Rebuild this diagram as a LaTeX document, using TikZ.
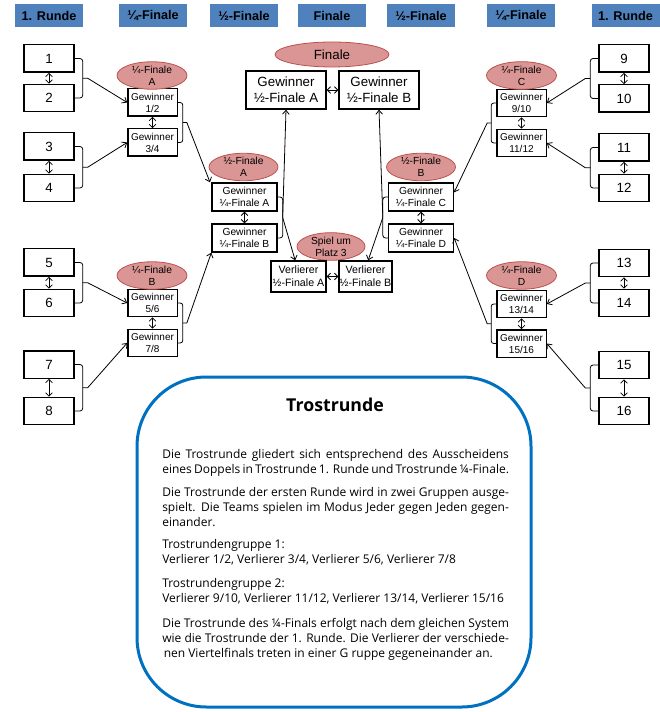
\documentclass[tikz,border=0pt]{standalone}
\usepackage{fontspec}
\setmainfont{Liberation Sans}
\newfontfamily\bodyfont{Open Sans}
\usetikzlibrary{arrows.meta,shapes.geometric,calc}
\definecolor{hdr}{RGB}{79,129,189}
\definecolor{ellf}{RGB}{217,150,148}
\definecolor{elld}{RGB}{192,80,77}
\definecolor{tblue}{RGB}{0,112,192}
\newcommand{\jl}[1]{\makebox[260pt][s]{#1}}
\begin{document}
\begin{tikzpicture}[x=0.75pt,y=-0.75pt,
 hdrbox/.style={fill=hdr, minimum width=51pt, minimum height=17.25pt, inner sep=0pt, font=\bfseries\fontsize{9.5}{11}\selectfont},
 r1box/.style={draw, line width=1pt, minimum width=37.5pt, minimum height=20.5pt, inner sep=0pt, font=\fontsize{10}{12}\selectfont},
 qfbox/.style={draw, line width=1pt, minimum width=37pt, minimum height=20.5pt, inner sep=0pt, align=center, font=\fontsize{7.5}{9}\selectfont},
 sfbox/.style={draw, line width=1pt, minimum width=48.75pt, minimum height=21pt, inner sep=0pt, align=center, font=\fontsize{7.7}{9}\selectfont},
 finbox/.style={draw, line width=1pt, minimum width=60pt, minimum height=28.5pt, inner sep=0pt, align=center, font=\fontsize{10}{12}\selectfont},
 verbox/.style={draw, line width=1pt, minimum height=23.25pt, inner sep=0pt, align=center, font=\fontsize{8}{9.75}\selectfont},
 lbl/.style={ellipse, fill=ellf, draw=elld, line width=0.6pt, inner sep=0pt, align=center, font=\fontsize{7.7}{9}\selectfont},
 con/.style={line width=0.6pt, -{Straight Barb[length=3pt,width=5pt]}},
 dbl/.style={line width=0.6pt, {Straight Barb[length=2.5pt,width=5pt]}-{Straight Barb[length=2.5pt,width=5pt]}},
 brk/.style={line width=0.6pt, rounded corners=2pt},
 body/.style={anchor=base west, inner sep=0pt, font=\bodyfont\fontsize{9}{11}\selectfont},
]
\useasboundingbox (0,0) rectangle (659,712);

% headers
\node[hdrbox] (h1) at (49,15.5) {1. Runde};
\node[hdrbox] (h2) at (153,15.5) {¼-Finale};
\node[hdrbox] (h3) at (244,15.5) {½-Finale};
\node[hdrbox] (h4) at (332,15.5) {Finale};
\node[hdrbox] (h5) at (421,15.5) {½-Finale};
\node[hdrbox] (h6) at (521,15.5) {¼-Finale};
\node[hdrbox] (h7) at (625.5,15.5) {1. Runde};

% first round left
\node[r1box] (n1) at (49,58.5) {1};
\node[r1box] (n2) at (49,98) {2};
\node[r1box] (n3) at (49,146.5) {3};
\node[r1box] (n4) at (49,188) {4};
\node[r1box] (n5) at (49,262.5) {5};
\node[r1box] (n6) at (49,303) {6};
\node[r1box] (n7) at (49,364.5) {7};
\node[r1box] (n8) at (49,411) {8};
% first round right
\node[r1box] (n9) at (624,58.5) {9};
\node[r1box] (n10) at (624,98.5) {10};
\node[r1box] (n11) at (624,147.5) {11};
\node[r1box] (n12) at (624,188) {12};
\node[r1box] (n13) at (624,263) {13};
\node[r1box] (n14) at (624,303) {14};
\node[r1box] (n15) at (624,365) {15};
\node[r1box] (n16) at (624,411) {16};

% quarter finals
\node[qfbox] (q12) at (152.5,102.5) {Gewinner\\1/2};
\node[qfbox] (q34) at (152.5,142.5) {Gewinner\\3/4};
\node[qfbox] (q56) at (152.5,303) {Gewinner\\5/6};
\node[qfbox] (q78) at (152.5,343) {Gewinner\\7/8};
\node[qfbox] (q910) at (521.5,103) {Gewinner\\9/10};
\node[qfbox] (q1112) at (521.5,143) {Gewinner\\11/12};
\node[qfbox] (q1314) at (521.5,304) {Gewinner\\13/14};
\node[qfbox] (q1516) at (521.5,343.5) {Gewinner\\15/16};

\node[lbl, minimum width=52.5pt, minimum height=18pt] (ea) at (152,75.5) {¼-Finale\\A};
\node[lbl, minimum width=52.5pt, minimum height=18.75pt] (eb) at (152,275.5) {¼-Finale\\B};
\node[lbl, minimum width=52.5pt, minimum height=18pt] (ec) at (521.5,75.5) {¼-Finale\\C};
\node[lbl, minimum width=52.5pt, minimum height=18.75pt] (ed) at (521.5,275.5) {¼-Finale\\D};

% semi finals
\node[sfbox] (sfa) at (244.5,197) {Gewinner\\¼-Finale A};
\node[sfbox] (sfb) at (244.5,238) {Gewinner\\¼-Finale B};
\node[sfbox] (sfc) at (421,197) {Gewinner\\¼-Finale C};
\node[sfbox] (sfd) at (421,238) {Gewinner\\¼-Finale D};
\node[lbl, minimum width=51.75pt, minimum height=19.5pt] (esa) at (243.5,167) {½-Finale\\A};
\node[lbl, minimum width=51.75pt, minimum height=19.5pt] (esb) at (421,167) {½-Finale\\B};

% finals
\node[lbl, minimum width=85.5pt, minimum height=18.75pt, font=\fontsize{10}{12}\selectfont] (efin) at (332,54.5) {Finale};
\node[finbox] (fina) at (286,90) {Gewinner\\½-Finale A};
\node[finbox] (finb) at (379,90) {Gewinner\\½-Finale B};
\node[lbl, minimum width=51pt, minimum height=20.25pt] (ep3) at (331,246.5) {Spiel um\\Platz 3};
\node[verbox, minimum width=41.25pt] (verla) at (298.5,276.5) {Verlierer\\½-Finale A};
\node[verbox, minimum width=39.75pt] (verlb) at (365.5,276.5) {Verlierer\\½-Finale B};

% double arrows
\foreach \a/\b in {n1/n2,n3/n4,n5/n6,n7/n8,n9/n10,n11/n12,n13/n14,n15/n16,q12/q34,q56/q78,q910/q1112,q1314/q1516,sfa/sfb,sfc/sfd}
  \draw[dbl] (\a.south) -- (\b.north);
\draw[dbl] (fina.east) -- (finb.west);
\draw[dbl] (verla.east) -- (verlb.west);

% brackets left (first round)
\foreach \a/\b/\c in {n1/n2/q12,n3/n4/q34,n5/n6/q56,n7/n8/q78}{
  \draw[brk] (\a.east) -- ++(8,0) -- ([xshift=6pt]\b.east) -- (\b.east);
  \coordinate (m\a) at ($(\a.east)!0.5!(\b.east)+(8,0)$);
  \draw[con] (m\a) -- ++(5,0) -- (\c.west);
}
% brackets right (first round)
\foreach \a/\b/\c in {n9/n10/q910,n11/n12/q1112,n13/n14/q1314,n15/n16/q1516}{
  \draw[brk] (\a.west) -- ++(-8,0) -- ([xshift=-6pt]\b.west) -- (\b.west);
  \coordinate (m\a) at ($(\a.west)!0.5!(\b.west)+(-8,0)$);
  \draw[con] (m\a) -- ++(-5,0) -- (\c.east);
}

% quarter final brackets
\draw[brk] (q12.east) -- ++(5,0) -- ([xshift=3.75pt]q34.east) -- (q34.east);
\coordinate (mq12) at ($(q12.east)!0.5!(q34.east)+(5,0)$);
\draw[con] (mq12) -- ++(4,0) -- ([xshift=-1pt]sfa.north west);
\draw[brk] (q56.east) -- ++(5,0) -- ([xshift=3.75pt]q78.east) -- (q78.east);
\coordinate (mq56) at ($(q56.east)!0.5!(q78.east)+(5,0)$);
\draw[con] (mq56) -- ++(4,0) -- (sfb.south west);
\draw[brk] (q910.west) -- ++(-5,0) -- ([xshift=-3.75pt]q1112.west) -- (q1112.west);
\coordinate (mq910) at ($(q910.west)!0.5!(q1112.west)+(-5,0)$);
\draw[con] (mq910) -- ++(-4,0) -- ([yshift=3.5pt]sfc.east);
\draw[brk] (q1314.west) -- ++(-5,0) -- ([xshift=-3.75pt]q1516.west) -- (q1516.west);
\coordinate (mq1314) at ($(q1314.west)!0.5!(q1516.west)+(-5,0)$);
\draw[con] (mq1314) -- ++(-4,0) -- (sfd.east);

% semi final brackets
\draw[brk] (sfa.east) -- ++(5,0) -- ([xshift=3.75pt]sfb.east) -- (sfb.east);
\coordinate (msa) at ($(sfa.east)!0.5!(sfb.east)+(5,0)$);
\draw[con] (msa) -- (fina.south);
\draw[con] (msa) -- ([xshift=-2.5pt]verla.north);
\draw[brk] (sfc.west) -- ++(-5,0) -- ([xshift=-3.75pt]sfd.west) -- (sfd.west);
\coordinate (msc) at ($(sfc.west)!0.5!(sfd.west)+(-5,0)$);
\draw[con] (msc) -- (finb.south);
\draw[con] (msc) -- ([xshift=2pt]verlb.north);

% Trostrunde box
\draw[tblue, line width=2.25pt, rounded corners=52pt] (137,377) rectangle (531,707);
\node[font=\bodyfont\bfseries\fontsize{13.3}{16}\selectfont, inner sep=0pt] (title) at (335,405) {Trostrunde};
\node[body] (t1) at (162,458) {\jl{Die Trostrunde gliedert sich entsprechend des Ausscheidens}};
\node[body] (t2) at (162,473) {\jl{eines Doppels in Trostrunde 1. Runde und Trostrunde ¼-Finale.}};
\node[body] (t3) at (162,496) {\jl{Die Trostrunde der ersten Runde wird in zwei Gruppen ausge-}};
\node[body] (t4) at (162,511) {\jl{spielt. Die Teams spielen im Modus Jeder gegen Jeden gegen-}};
\node[body] (t5) at (162,526) {einander.};
\node[body] (t6) at (162,548) {Trostrundengruppe 1:};
\node[body] (t7) at (162,563) {Verlierer 1/2, Verlierer 3/4, Verlierer 5/6, Verlierer 7/8};
\node[body] (t8) at (162,587) {Trostrundengruppe 2:};
\node[body] (t9) at (162,602) {Verlierer 9/10, Verlierer 11/12, Verlierer 13/14, Verlierer 15/16};
\node[body] (t10) at (162,627) {\jl{Die Trostrunde des ¼-Finals erfolgt nach dem gleichen System}};
\node[body] (t11) at (162,642) {\jl{wie die Trostrunde der 1. Runde. Die Verlierer der verschiede-}};
\node[body] (t12) at (163.5,657) {nen Viertelfinals treten in einer G ruppe gegeneinander an.};
\end{tikzpicture}
\end{document}
